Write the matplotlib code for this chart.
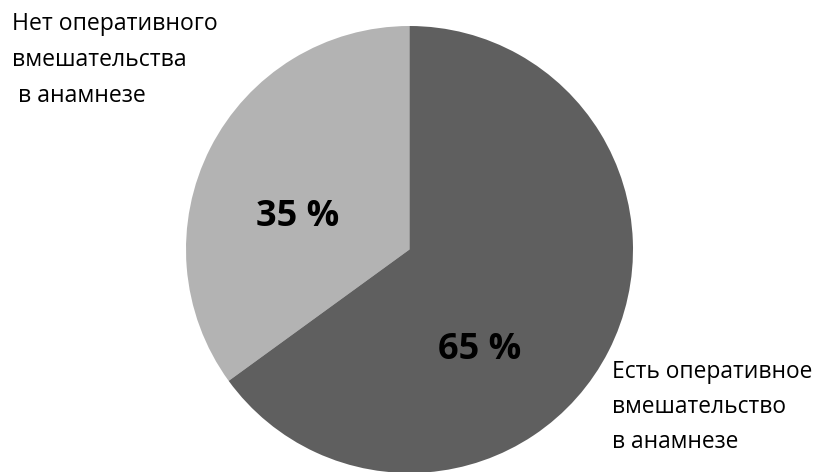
import matplotlib
matplotlib.use("Agg")
import matplotlib.pyplot as plt

plt.rcParams['font.family'] = ['Open Sans', 'DejaVu Sans']

# доли пациентов
categories = ["Нет оперативного\nвмешательства\n в анамнезе",
              "Есть оперативное\nвмешательство\nв анамнезе"]
shares = [35, 65]
colors = ['#b3b3b3', '#5f5f5f']

W, H = 817, 472
fig = plt.figure(figsize=(W / 100, H / 100), dpi=100, facecolor='white')

# круг: центр (409.5, 249.5) px, радиус 223.5 px
cx, cy, r = 409.5, 249.5, 223.5
ax = fig.add_axes([(cx - r) / W, (H - cy - r) / H, 2 * r / W, 2 * r / H])
ax.pie(shares, colors=colors, startangle=90, counterclock=True,
       radius=1, wedgeprops=dict(linewidth=0))
ax.set_xlim(-1, 1)
ax.set_ylim(-1, 1)
ax.set_aspect('equal')
ax.axis('off')

# подписи процентов внутри секторов
pct_pos = [(-0.50, 0.145), (0.315, -0.45)]
for v, (px, py) in zip(shares, pct_pos):
    ax.text(px, py, f"{v} %", ha='center', va='center',
            fontsize=26, fontweight='bold', color='black')

# подписи категорий
fig.text(12 / W, 1 - 12 / H, categories[0], ha='left', va='top',
         fontsize=16.6, linespacing=1.66, color='black')
fig.text(612 / W, 1 - 360 / H, categories[1], ha='left', va='top',
         fontsize=16.4, linespacing=1.62, color='black')

fig.savefig("out.png", dpi=100, facecolor='white')
